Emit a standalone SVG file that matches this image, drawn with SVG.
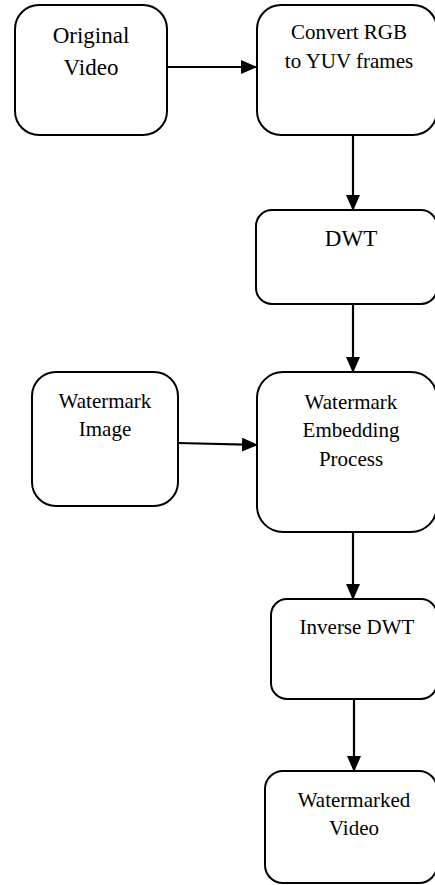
<svg xmlns="http://www.w3.org/2000/svg" width="435" height="885" viewBox="0 0 435 885">
<defs>
<style>
.box{fill:#fff;stroke:#000;stroke-width:2}
text{font-family:'Liberation Serif','Times New Roman','DejaVu Serif',serif;fill:#000;text-anchor:middle;font-size:21px}
.c{stroke:#000;stroke-width:2.2;fill:none}
</style>
<marker id="ah" markerWidth="16" markerHeight="14" refX="15" refY="7" orient="auto" markerUnits="userSpaceOnUse">
<path d="M0,0 L16,7 L0,14 Z" fill="#000"/>
</marker>
</defs>
<rect width="435" height="885" fill="#fff"/>
<g id="connectors">
<line class="c" x1="167" y1="67" x2="256" y2="67" marker-end="url(#ah)"/>
<line class="c" x1="353" y1="135" x2="353" y2="210" marker-end="url(#ah)"/>
<line class="c" x1="353" y1="304" x2="353" y2="372" marker-end="url(#ah)"/>
<line class="c" x1="178" y1="443" x2="257" y2="445" marker-end="url(#ah)"/>
<line class="c" x1="353" y1="532" x2="353" y2="599" marker-end="url(#ah)"/>
<line class="c" x1="354" y1="699" x2="354" y2="771" marker-end="url(#ah)"/>
</g>
<g id="original-video">
<rect class="box" x="15" y="5" width="152" height="130" rx="24"/>
<text x="91" y="43" style="font-size:23px">Original</text>
<text x="91" y="75" style="font-size:23px">Video</text>
</g>
<g id="convert-rgb">
<rect class="box" x="257" y="5" width="180" height="130" rx="24"/>
<text x="349" y="39">Convert RGB</text>
<text x="349" y="68">to YUV frames</text>
</g>
<g id="dwt">
<rect class="box" x="256" y="210" width="181" height="94" rx="16"/>
<text x="351" y="246" style="font-size:23px">DWT</text>
</g>
<g id="watermark-image">
<rect class="box" x="32" y="372" width="146" height="134" rx="24"/>
<text x="105" y="408">Watermark</text>
<text x="105" y="436">Image</text>
</g>
<g id="embedding">
<rect class="box" x="257" y="372" width="180" height="160" rx="26"/>
<text x="351" y="409">Watermark</text>
<text x="351" y="437">Embedding</text>
<text x="351" y="466">Process</text>
</g>
<g id="inverse-dwt">
<rect class="box" x="271" y="599" width="166" height="100" rx="16"/>
<text x="357" y="634">Inverse DWT</text>
</g>
<g id="watermarked-video">
<rect class="box" x="265" y="771" width="172" height="112" rx="18"/>
<text x="354" y="807">Watermarked</text>
<text x="354" y="835">Video</text>
</g>
</svg>
